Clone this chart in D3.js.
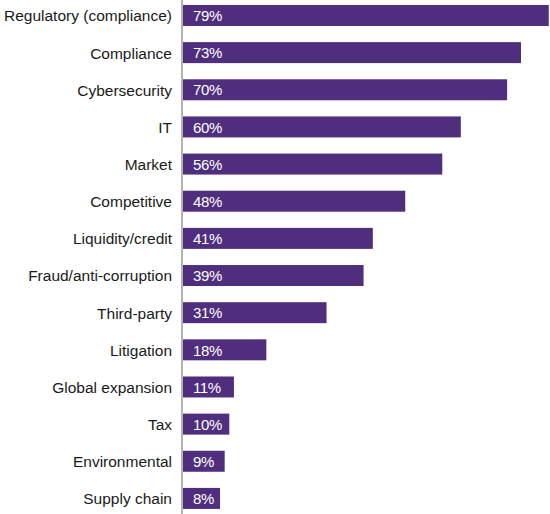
<!DOCTYPE html>
<html><head><meta charset="utf-8">
<script src="https://cdn.jsdelivr.net/npm/d3@7"></script>
<style>html,body{margin:0;padding:0;background:#fff;}svg{display:block;}</style>
</head><body>
<svg id="chart" width="550" height="514"></svg>
<script>
const categories = ["Regulatory (compliance)","Compliance","Cybersecurity","IT","Market","Competitive","Liquidity/credit","Fraud/anti-corruption","Third-party","Litigation","Global expansion","Tax","Environmental","Supply chain"];
const values = [79,73,70,60,56,48,41,39,31,18,11,10,9,8];
const valueLabels = values.map(v => v + "%");

const svg = d3.select("#chart");
const x = d3.scaleLinear().domain([0,100]).range([183, 183 + 463]);
const y = d3.scaleBand().domain(categories).range([-3.1, 517]).paddingInner(0.435).paddingOuter(0.2175);

svg.selectAll("rect.bar").data(categories).join("rect")
  .attr("class","bar")
  .attr("x", x(0))
  .attr("y", d => y(d))
  .attr("width", (d,i) => x(values[i]) - x(0))
  .attr("height", y.bandwidth())
  .attr("fill", "#4f2e7e");

svg.selectAll("text.val").data(categories).join("text")
  .attr("class","val")
  .attr("x", x(0) + 10)
  .attr("y", d => y(d) + y.bandwidth()/2)
  .attr("dy", "0.38em")
  .attr("fill", "#fff")
  .style("font-family", "'Liberation Sans', Arial, sans-serif")
  .style("font-size", "15px")
  .style("letter-spacing", "-0.4px")
  .text((d,i) => valueLabels[i]);

const axis = d3.axisLeft(y).tickSize(0).tickPadding(10);
const g = svg.append("g").attr("transform", "translate(182,0)").call(axis);
g.select(".domain").attr("stroke", "#9a9a9a").attr("stroke-width", 1.5).attr("d", "M0,0V514");
g.selectAll("text")
  .attr("fill", "#1a1a1a")
  .attr("dy", "0.38em")
  .style("font-family", "'Liberation Sans', Arial, sans-serif")
  .style("font-size", "15.5px");
</script>
</body></html>
